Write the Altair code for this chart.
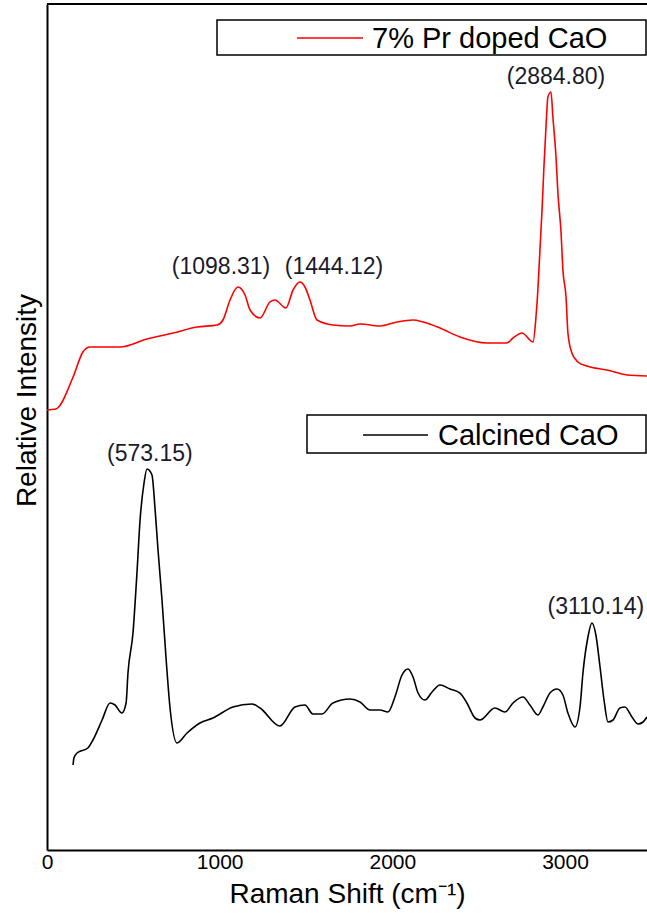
import altair as alt
import pandas as pd

# ---- data (Raman shift in cm^-1, relative intensity in arbitrary units) ----
pr_shift = [0, 52, 151, 208, 249, 423, 579, 730, 869, 985, 1019, 1060, 1106, 1147, 1176,
            1234, 1291, 1320, 1384, 1425, 1465, 1494, 1523, 1564, 1656, 1755, 1813, 1928,
            2027, 2120, 2178, 2276, 2392, 2548, 2664, 2699, 2751, 2815, 2832, 2843, 2855,
            2867, 2878, 2890, 2901, 2919, 2930, 2948, 2959, 2977, 2988, 3006, 3017, 3040,
            3075, 3127, 3243, 3359, 3475]
pr_int = [440, 441, 473, 498, 503, 503, 511, 517, 523, 525, 530, 550, 563, 555, 540,
          532, 548, 550, 542, 560, 568, 563, 550, 530, 525, 524, 526, 524,
          528, 530, 528, 522, 513, 507, 507, 512, 517, 508, 533, 560, 600,
          640, 683, 723, 753, 758, 733, 693, 657, 618, 580, 553, 517, 497,
          488, 484, 480, 475, 474]

cao_shift = [151, 156, 174, 237, 266, 319, 365, 394, 434, 458, 469, 498, 521, 539, 562,
             579, 608, 625, 643, 666, 689, 712, 753, 811, 886, 961, 1077, 1187, 1234,
             1349, 1436, 1494, 1540, 1593, 1656, 1755, 1813, 1871, 1928, 1975, 2015, 2056,
             2091, 2120, 2149, 2189, 2230, 2276, 2334, 2392, 2432, 2479, 2508, 2594, 2652,
             2699, 2757, 2797, 2843, 2872, 2913, 2954, 2988, 3017, 3058, 3087, 3104, 3133,
             3156, 3179, 3203, 3226, 3249, 3278, 3318, 3347, 3388, 3423, 3452, 3475]
cao_int = [85, 92, 97, 102, 110, 130, 147, 145, 137, 147, 177, 217, 277, 330, 367,
           381, 375, 343, 300, 250, 193, 143, 107, 117, 127, 132, 143, 146, 142,
           124, 143, 145, 136, 136, 147, 151, 148, 140, 140, 138, 153, 175,
           181, 173, 157, 150, 158, 165, 161, 157, 147, 132, 130, 142, 138,
           147, 153, 145, 135, 143, 157, 161, 155, 137, 123, 143, 177, 213,
           227, 215, 183, 150, 128, 130, 142, 143, 133, 126, 128, 133]

series_names = ["7% Pr doped CaO", "Calcined CaO"]
series_colors = ["#ff0000", "#000000"]

peak_shift = [596, 1008, 1662, 2948, 3179]
peak_int = [396, 583, 583, 773, 243]
peak_text = ["(573.15)", "(1098.31)", "(1444.12)", "(2884.80)", "(3110.14)"]

x_ticks = [0, 1000, 2000, 3000]

FONT = "Liberation Sans"
W, H = 600, 846

lines_df = pd.concat([
    pd.DataFrame({"shift": pr_shift, "intensity": pr_int, "series": series_names[0], "order": range(len(pr_shift))}),
    pd.DataFrame({"shift": cao_shift, "intensity": cao_int, "series": series_names[1], "order": range(len(cao_shift))}),
])
peaks_df = pd.DataFrame({"shift": peak_shift, "intensity": peak_int, "label": peak_text})

x_enc = alt.X("shift:Q",
              scale=alt.Scale(domain=[0, 3475], nice=False, zero=False),
              axis=alt.Axis(values=x_ticks, format="d", ticks=False, grid=False, labelFlush=False,
                            domainColor="#000", domainWidth=2, labelFont=FONT, labelFontSize=21,
                            labelColor="#000", labelPadding=1, labelBaseline="top",
                            title="Raman Shift (cm\u207b\u00b9)", titleFont=FONT, titleFontSize=28,
                            titleFontWeight="normal", titleColor="#000", titleY=44,
                            titleBaseline="middle"))
y_enc = alt.Y("intensity:Q",
              scale=alt.Scale(domain=[0, 846], nice=False, zero=False),
              axis=alt.Axis(labels=False, ticks=False, grid=False, domainColor="#000", domainWidth=2,
                            title="Relative Intensity", titleFont=FONT, titleFontSize=28,
                            titleFontWeight="normal", titleColor="#000", titleX=-20, titleY=396,
                            titleAngle=270, titleAlign="center", titleBaseline="middle"))

lines = alt.Chart(lines_df).mark_line(strokeWidth=1.6, clip=True, interpolate="monotone").encode(
    x=x_enc, y=y_enc,
    color=alt.Color("series:N", scale=alt.Scale(domain=series_names, range=series_colors), legend=None),
    order="order:Q",
)

peaks = alt.Chart(peaks_df).mark_text(font=FONT, fontSize=23, color="#1a1a2a", baseline="middle").encode(
    x="shift:Q", y="intensity:Q", text="label:N")

one = pd.DataFrame({"k": [0]})
top_border = alt.Chart(one).mark_rule(color="#000", strokeWidth=2).encode(
    x=alt.value(0), x2=alt.value(W), y=alt.value(0))

leg1_df = pd.DataFrame({"label": [series_names[0]]})
leg2_df = pd.DataFrame({"label": [series_names[1]]})

leg1_box = alt.Chart(leg1_df).mark_rect(fill="white", stroke="#000", strokeWidth=1.5).encode(
    x=alt.value(170), x2=alt.value(599), y=alt.value(16), y2=alt.value(51))
leg1_line = alt.Chart(leg1_df).mark_rule(color="#ff0000", strokeWidth=1.6).encode(
    x=alt.value(250), x2=alt.value(316), y=alt.value(34))
leg1_text = alt.Chart(leg1_df).mark_text(font=FONT, fontSize=29, align="left", baseline="middle",
                                         color="#000").encode(
    x=alt.value(325), y=alt.value(35), text="label:N")

leg2_box = alt.Chart(leg2_df).mark_rect(fill="white", stroke="#000", strokeWidth=1.5).encode(
    x=alt.value(260), x2=alt.value(599), y=alt.value(411), y2=alt.value(449))
leg2_line = alt.Chart(leg2_df).mark_rule(color="#000", strokeWidth=1.6).encode(
    x=alt.value(316), x2=alt.value(381), y=alt.value(431))
leg2_text = alt.Chart(leg2_df).mark_text(font=FONT, fontSize=29, align="left", baseline="middle",
                                         color="#000").encode(
    x=alt.value(391), y=alt.value(432), text="label:N")

chart = alt.layer(
    lines, peaks, top_border, leg1_box, leg1_line, leg1_text, leg2_box, leg2_line, leg2_text
).properties(
    width=W, height=H,
    autosize=alt.AutoSizeParams(type="none"),
    padding={"left": 47, "top": 4, "right": 0, "bottom": 63},
    background="white",
).configure_view(stroke=None)

chart.save("out.html", embed_options={"renderer": "svg", "actions": False})
